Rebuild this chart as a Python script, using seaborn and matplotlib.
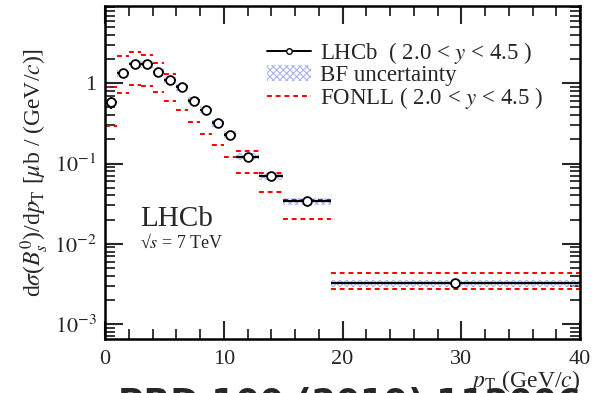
import numpy as np
import pandas as pd
import matplotlib
matplotlib.use("Agg")
import matplotlib.pyplot as plt
from matplotlib.lines import Line2D
from matplotlib.patches import Patch
from matplotlib.ticker import FixedLocator, FuncFormatter, LogLocator, NullFormatter
import seaborn as sns

# ---- data ----
bin_lo = [0, 1, 2, 3, 4, 5, 6, 7, 8, 9, 10, 11, 13, 15, 19]
bin_hi = [1, 2, 3, 4, 5, 6, 7, 8, 9, 10, 11, 13, 15, 19, 40]
pt_center = [0.5, 1.5, 2.5, 3.5, 4.5, 5.5, 6.5, 7.5, 8.5, 9.5, 10.5, 12.0, 14.0, 17.0, 29.5]
xsec = [0.58, 1.33, 1.74, 1.72, 1.38, 1.10, 0.89, 0.61, 0.47, 0.32, 0.23, 0.122, 0.069, 0.034, 0.0032]
xsec_err = [0.10, 0.13, 0.12, 0.11, 0.09, 0.07, 0.06, 0.04, 0.03, 0.022, 0.016, 0.009, 0.006, 0.003, 0.00035]
bf_rel = [0.10] * 15
fonll_up = [0.90, 2.17, 2.46, 2.24, 1.79, 1.32, 0.93, 0.62, 0.47, 0.33, 0.235, 0.142, 0.077, 0.035, 0.0043]
fonll_lo = [0.29, 0.76, 0.96, 0.93, 0.78, 0.61, 0.46, 0.33, 0.235, 0.168, 0.122, 0.077, 0.044, 0.0204, 0.00275]
x_ticks = [0, 10, 20, 30, 40]
footer = "PRD 100 (2019) 112006"

df = pd.DataFrame({"pt": pt_center, "xsec": xsec, "err": xsec_err,
                   "lo": bin_lo, "hi": bin_hi, "fup": fonll_up, "flo": fonll_lo,
                   "bf": bf_rel})

sns.set_theme(style="ticks")
plt.rcParams["font.family"] = ["Liberation Serif", "DejaVu Serif"]
plt.rcParams["mathtext.fontset"] = "stix"
plt.rcParams["hatch.color"] = "#9aa8f0"
plt.rcParams["hatch.linewidth"] = 0.8

fig = plt.figure(figsize=(5.97, 3.93), dpi=100)
ax = fig.add_axes([105 / 597, 1 - 339 / 393, 475 / 597, 333 / 393])

# BF uncertainty band
ax.bar(df["lo"], 2 * df["bf"] * df["xsec"], bottom=df["xsec"] * (1 - df["bf"]),
       width=df["hi"] - df["lo"], align="edge", facecolor="none",
       edgecolor="#a9b4f2", hatch="xxxxx", linewidth=0, zorder=1)

# FONLL
dash = (0, (2.5, 2.0))
ax.hlines(df["fup"], df["lo"], df["hi"], colors="#ff0000", linestyles=dash, linewidth=1.4, zorder=2)
ax.hlines(df["flo"], df["lo"], df["hi"], colors="#ff0000", linestyles=dash, linewidth=1.4, zorder=2)

# LHCb data
ax.errorbar(df["pt"], df["xsec"], yerr=df["err"],
            xerr=[df["pt"] - df["lo"], df["hi"] - df["pt"]],
            fmt="none", ecolor="black", elinewidth=1.6, capsize=0, zorder=3)
sns.scatterplot(data=df, x="pt", y="xsec", ax=ax, marker="o", s=40,
                facecolor="white", edgecolor="black", linewidth=1.3, zorder=4, legend=False)

ax.set_yscale("log")
ax.set_xlim(0, 40)
ax.set_ylim(6.5e-4, 9.2)

ax.xaxis.set_major_locator(FixedLocator(x_ticks))
ax.xaxis.set_minor_locator(FixedLocator(np.arange(0, 41, 2)))
ax.yaxis.set_major_locator(LogLocator(base=10, numticks=10))
ax.yaxis.set_minor_locator(LogLocator(base=10, subs=np.arange(2, 10), numticks=20))
ax.yaxis.set_minor_formatter(NullFormatter())

def yfmt(v, pos):
    e = int(round(np.log10(v)))
    if e == 0:
        return "1"
    return r"$10^{%d}$" % e

ax.yaxis.set_major_formatter(FuncFormatter(yfmt))

ax.tick_params(axis="both", which="major", direction="in", length=13, width=1.5,
               top=True, right=True, labelsize=16, pad=6)
ax.tick_params(axis="both", which="minor", direction="in", length=7, width=1.3,
               top=True, right=True)
ax.tick_params(axis="x", which="major", pad=8)
for sp in ax.spines.values():
    sp.set_linewidth(1.8)
    sp.set_color("black")

ax.set_ylabel(r"d$\sigma$($B^{0}_{s}$)/d$p_{\rm T}$ [$\mu$b / (GeV/$c$)]", fontsize=17, labelpad=2)
ax.set_xlabel(r"$p_{\rm T}$ (GeV/$c$)", fontsize=17, loc="right", labelpad=-1)

ax.text(0.074, 0.36, "LHCb", transform=ax.transAxes, fontsize=21, va="center")
ax.text(0.074, 0.29, "\u221a$s$ = 7 TeV", transform=ax.transAxes, fontsize=13, va="center")

handles = [
    Line2D([0], [0], color="black", lw=1.4, marker="o", markersize=4,
           markerfacecolor="white", markeredgecolor="black"),
    Patch(facecolor="none", edgecolor="#a9b4f2", hatch="xxxxx", linewidth=0),
    Line2D([0], [0], color="#ff0000", lw=1.4, linestyle=dash),
]
labels = [r"LHCb  ( 2.0 < $y$ < 4.5 )", "BF uncertainty", r"FONLL ( 2.0 < $y$ < 4.5 )"]
ax.legend(handles, labels, loc="upper left", bbox_to_anchor=(0.322, 0.925), frameon=False,
          fontsize=16.5, handlelength=1.9, handletextpad=0.4, labelspacing=-0.05, borderaxespad=0)

fig.text(118 / 597, 1 - 387 / 393, footer, fontsize=25, fontweight="bold",
         family="DejaVu Sans", va="top", ha="left")

fig.savefig("out.png", dpi=100)
